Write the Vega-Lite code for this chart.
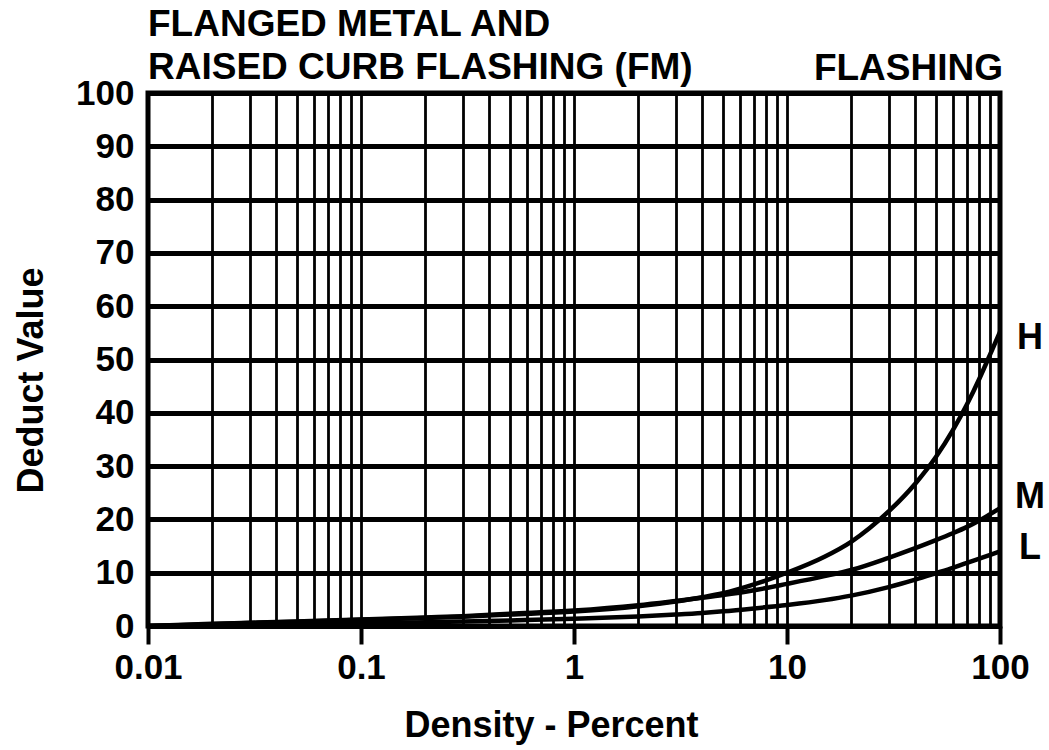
{
  "$schema": "https://vega.github.io/schema/vega-lite/v6.json",
  "width": 852,
  "height": 533,
  "autosize": "none",
  "padding": {"left": 148, "top": 93, "right": 49, "bottom": 124},
  "background": "white",
  "config": {"view": {"stroke": "black", "strokeWidth": 5}},
  "title": {
    "text": ["FLANGED METAL AND", "RAISED CURB FLASHING (FM)"],
    "anchor": "start",
    "frame": "group",
    "font": "Liberation Sans",
    "fontWeight": "bold",
    "fontSize": 37,
    "lineHeight": 43,
    "color": "black",
    "offset": -12,
    "dy": 25
  },
  "datasets": {
    "curves": [
      {"density": 0.01, "deduct": 0, "level": "H"},
      {"density": 0.02, "deduct": 0.35, "level": "H"},
      {"density": 0.03, "deduct": 0.55, "level": "H"},
      {"density": 0.05, "deduct": 0.8, "level": "H"},
      {"density": 0.1, "deduct": 1.15, "level": "H"},
      {"density": 0.2, "deduct": 1.5, "level": "H"},
      {"density": 0.3, "deduct": 1.75, "level": "H"},
      {"density": 0.5, "deduct": 2.15, "level": "H"},
      {"density": 1, "deduct": 2.7, "level": "H"},
      {"density": 2, "deduct": 3.7, "level": "H"},
      {"density": 3, "deduct": 4.6, "level": "H"},
      {"density": 4, "deduct": 5.4, "level": "H"},
      {"density": 5, "deduct": 6.15, "level": "H"},
      {"density": 7, "deduct": 7.8, "level": "H"},
      {"density": 10, "deduct": 10.0, "level": "H"},
      {"density": 15, "deduct": 13.0, "level": "H"},
      {"density": 20, "deduct": 15.8, "level": "H"},
      {"density": 30, "deduct": 21.5, "level": "H"},
      {"density": 40, "deduct": 26.7, "level": "H"},
      {"density": 50, "deduct": 31.7, "level": "H"},
      {"density": 60, "deduct": 36.7, "level": "H"},
      {"density": 70, "deduct": 41.6, "level": "H"},
      {"density": 80, "deduct": 46.4, "level": "H"},
      {"density": 90, "deduct": 51.0, "level": "H"},
      {"density": 100, "deduct": 55.2, "level": "H"},
      {"density": 0.01, "deduct": 0, "level": "M"},
      {"density": 0.02, "deduct": 0.4, "level": "M"},
      {"density": 0.03, "deduct": 0.6, "level": "M"},
      {"density": 0.05, "deduct": 0.85, "level": "M"},
      {"density": 0.1, "deduct": 1.2, "level": "M"},
      {"density": 0.2, "deduct": 1.6, "level": "M"},
      {"density": 0.3, "deduct": 1.85, "level": "M"},
      {"density": 0.5, "deduct": 2.3, "level": "M"},
      {"density": 1, "deduct": 2.9, "level": "M"},
      {"density": 2, "deduct": 3.9, "level": "M"},
      {"density": 3, "deduct": 4.7, "level": "M"},
      {"density": 4, "deduct": 5.3, "level": "M"},
      {"density": 5, "deduct": 5.8, "level": "M"},
      {"density": 7, "deduct": 6.7, "level": "M"},
      {"density": 10, "deduct": 7.9, "level": "M"},
      {"density": 15, "deduct": 9.35, "level": "M"},
      {"density": 20, "deduct": 10.5, "level": "M"},
      {"density": 30, "deduct": 12.8, "level": "M"},
      {"density": 40, "deduct": 14.6, "level": "M"},
      {"density": 50, "deduct": 16.1, "level": "M"},
      {"density": 60, "deduct": 17.4, "level": "M"},
      {"density": 70, "deduct": 18.6, "level": "M"},
      {"density": 80, "deduct": 19.8, "level": "M"},
      {"density": 90, "deduct": 21.0, "level": "M"},
      {"density": 100, "deduct": 22.1, "level": "M"},
      {"density": 0.01, "deduct": 0, "level": "L"},
      {"density": 0.02, "deduct": 0.15, "level": "L"},
      {"density": 0.03, "deduct": 0.25, "level": "L"},
      {"density": 0.05, "deduct": 0.35, "level": "L"},
      {"density": 0.1, "deduct": 0.5, "level": "L"},
      {"density": 0.2, "deduct": 0.7, "level": "L"},
      {"density": 0.3, "deduct": 0.85, "level": "L"},
      {"density": 0.5, "deduct": 1.05, "level": "L"},
      {"density": 1, "deduct": 1.35, "level": "L"},
      {"density": 2, "deduct": 1.8, "level": "L"},
      {"density": 3, "deduct": 2.15, "level": "L"},
      {"density": 4, "deduct": 2.45, "level": "L"},
      {"density": 5, "deduct": 2.75, "level": "L"},
      {"density": 7, "deduct": 3.3, "level": "L"},
      {"density": 10, "deduct": 3.95, "level": "L"},
      {"density": 15, "deduct": 4.85, "level": "L"},
      {"density": 20, "deduct": 5.7, "level": "L"},
      {"density": 30, "deduct": 7.3, "level": "L"},
      {"density": 40, "deduct": 8.7, "level": "L"},
      {"density": 50, "deduct": 9.9, "level": "L"},
      {"density": 60, "deduct": 10.9, "level": "L"},
      {"density": 70, "deduct": 11.85, "level": "L"},
      {"density": 80, "deduct": 12.65, "level": "L"},
      {"density": 90, "deduct": 13.35, "level": "L"},
      {"density": 100, "deduct": 14.0, "level": "L"}
    ],
    "labels": [
      {"density": 100, "deduct": 54.0, "level": "H"},
      {"density": 100, "deduct": 24.2, "level": "M"},
      {"density": 100, "deduct": 14.6, "level": "L"}
    ],
    "corner": [
      {"density": 100, "deduct": 100, "text": "FLASHING"}
    ]
  },
  "layer": [
    {
      "data": {"name": "curves"},
      "mark": {"type": "line", "color": "black", "strokeWidth": 4.5, "interpolate": "monotone", "clip": true},
      "encoding": {
        "x": {
          "field": "density",
          "type": "quantitative",
          "scale": {"type": "log", "domain": [0.01, 100], "nice": false},
          "axis": {
            "values": [0.01, 0.02, 0.03, 0.04, 0.05, 0.06, 0.07, 0.08, 0.09, 0.1, 0.2, 0.3, 0.4, 0.5, 0.6, 0.7, 0.8, 0.9, 1, 2, 3, 4, 5, 6, 7, 8, 9, 10, 20, 30, 40, 50, 60, 70, 80, 90, 100],
            "format": "~g",
            "labelExpr": "(datum.value == 0.01 || datum.value == 0.1 || datum.value == 1 || datum.value == 10 || datum.value == 100) ? datum.label : ''",
            "grid": true,
            "gridColor": "black",
            "gridWidth": 2.8,
            "gridOpacity": 1,
            "domain": false,
            "ticks": true,
            "tickColor": "black",
            "tickWidth": 4,
            "tickSize": 18,
            "tickOpacity": {"condition": {"test": "datum.value == 0.01 || datum.value == 0.1 || datum.value == 1 || datum.value == 10 || datum.value == 100", "value": 1}, "value": 0},
            "labelFont": "Liberation Sans",
            "labelFontWeight": "bold",
            "labelFontSize": 35,
            "labelColor": "black",
            "labelPadding": 6,
            "labelFlush": false,
            "labelOverlap": false,
            "title": "Density - Percent",
            "titleFont": "Liberation Sans",
            "titleFontWeight": "bold",
            "titleFontSize": 36,
            "titleColor": "black",
            "titleX": 403,
            "titleY": 110,
            "titleAlign": "center",
            "titleBaseline": "alphabetic"
          }
        },
        "y": {
          "field": "deduct",
          "type": "quantitative",
          "scale": {"domain": [0, 100], "nice": false},
          "axis": {
            "values": [0, 5, 10, 15, 20, 25, 30, 35, 40, 45, 50, 55, 60, 65, 70, 75, 80, 85, 90, 95, 100],
            "labelExpr": "datum.value % 10 == 0 ? datum.label : ''",
            "grid": true,
            "gridColor": "black",
            "gridOpacity": 1,
            "gridWidth": {"condition": {"test": "datum.value % 10 == 0", "value": 4.8}, "value": 2.6},
            "domain": false,
            "ticks": false,
            "labelFont": "Liberation Sans",
            "labelFontWeight": "bold",
            "labelFontSize": 35,
            "labelColor": "black",
            "labelPadding": 14,
            "labelFlush": false,
            "labelOverlap": false,
            "title": "Deduct Value",
            "titleFont": "Liberation Sans",
            "titleFontWeight": "bold",
            "titleFontSize": 36,
            "titleColor": "black",
            "titleAngle": -90,
            "titleX": -106,
            "titleY": 287,
            "titleAlign": "center",
            "titleBaseline": "alphabetic"
          }
        },
        "detail": {"field": "level"}
      }
    },
    {
      "data": {"name": "labels"},
      "mark": {"type": "text", "font": "Liberation Sans", "fontWeight": "bold", "fontSize": 36, "color": "black", "align": "center", "baseline": "middle", "dx": 30},
      "encoding": {
        "x": {"field": "density", "type": "quantitative"},
        "y": {"field": "deduct", "type": "quantitative"},
        "text": {"field": "level"}
      }
    },
    {
      "data": {"name": "corner"},
      "mark": {"type": "text", "font": "Liberation Sans", "fontWeight": "bold", "fontSize": 37, "color": "black", "align": "right", "baseline": "alphabetic", "dx": 3, "dy": -13},
      "encoding": {
        "x": {"field": "density", "type": "quantitative"},
        "y": {"field": "deduct", "type": "quantitative"},
        "text": {"field": "text"}
      }
    }
  ]
}
